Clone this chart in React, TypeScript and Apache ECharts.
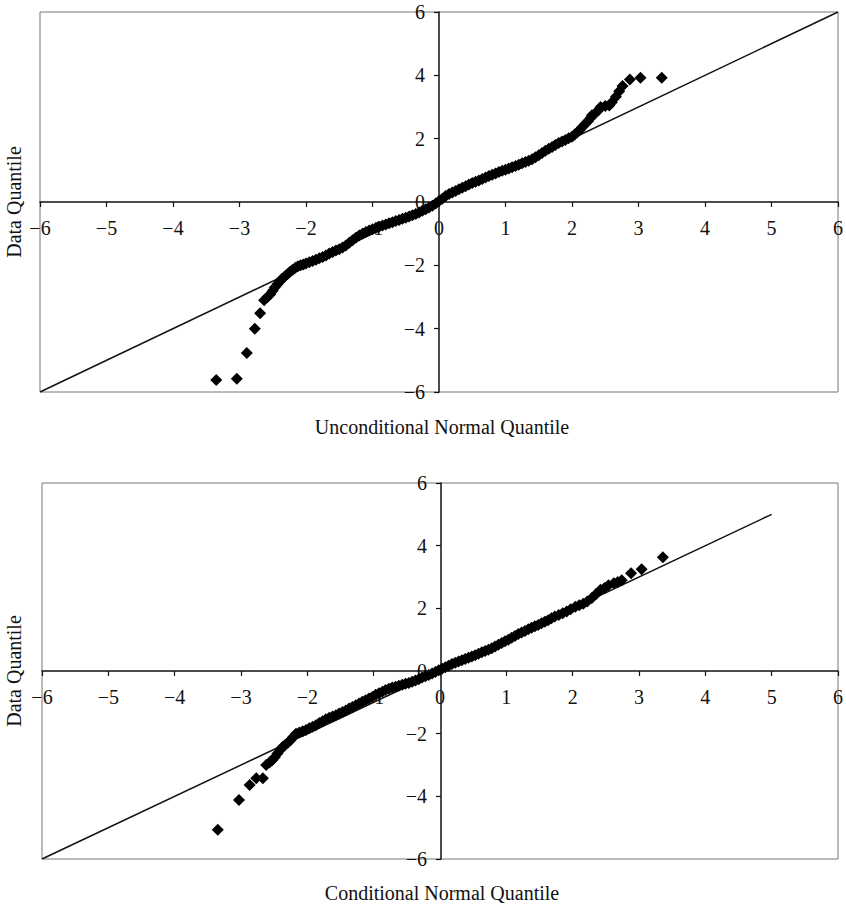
import React, { useEffect, useRef } from "react";
import * as echarts from "echarts";

// Top panel: unconditional normal quantiles vs data quantiles
const topX = [
  -3.35, -3.04, -2.89, -2.77, -2.69, -2.63, -2.58, -2.54, -2.5, -2.47, -2.43, -2.39, -2.36, -2.32,
  -2.28, -2.24, -2.2, -2.16, -2.12, -2.08, -2.04, -2.0, -1.95, -1.9, -1.85, -1.8, -1.75, -1.7,
  -1.65, -1.6, -1.55, -1.5, -1.45, -1.4, -1.35, -1.3, -1.25, -1.2, -1.15, -1.1, -1.05, -1.0,
  -0.95, -0.9, -0.85, -0.8, -0.75, -0.7, -0.65, -0.6, -0.55, -0.5, -0.45, -0.4, -0.35, -0.3,
  -0.25, -0.2, -0.15, -0.1, -0.05, 0.0, 0.05, 0.1, 0.15, 0.2, 0.25, 0.3, 0.35, 0.4, 0.45, 0.5,
  0.55, 0.6, 0.65, 0.7, 0.75, 0.8, 0.85, 0.9, 0.95, 1.0, 1.05, 1.1, 1.15, 1.2, 1.25, 1.3, 1.35,
  1.4, 1.45, 1.5, 1.55, 1.6, 1.65, 1.7, 1.75, 1.8, 1.85, 1.9, 1.95, 2.0, 2.04, 2.08, 2.12, 2.16,
  2.2, 2.24, 2.28, 2.3, 2.35, 2.39, 2.43, 2.5, 2.56, 2.6, 2.66, 2.71, 2.76, 2.87, 3.03, 3.35,
];
const topY = [
  -5.62, -5.58, -4.77, -4.0, -3.51, -3.1, -3.0, -2.92, -2.8, -2.7, -2.6, -2.5, -2.42, -2.35,
  -2.28, -2.2, -2.14, -2.08, -2.03, -2.0, -1.97, -1.94, -1.9, -1.86, -1.82, -1.78, -1.74, -1.69,
  -1.63, -1.58, -1.53, -1.49, -1.44, -1.37, -1.29, -1.21, -1.13, -1.06, -1.0, -0.95, -0.9, -0.86,
  -0.82, -0.78, -0.74, -0.71, -0.67, -0.64, -0.6, -0.57, -0.53, -0.5, -0.46, -0.42, -0.38, -0.33,
  -0.28, -0.23, -0.17, -0.12, -0.05, 0.03, 0.1, 0.19, 0.25, 0.3, 0.35, 0.4, 0.45, 0.5, 0.55, 0.6,
  0.64, 0.68, 0.73, 0.77, 0.82, 0.86, 0.9, 0.95, 0.99, 1.02, 1.06, 1.1, 1.14, 1.18, 1.22, 1.26,
  1.3, 1.35, 1.41, 1.48, 1.55, 1.62, 1.68, 1.74, 1.8, 1.86, 1.91, 1.96, 2.01, 2.06, 2.13, 2.2,
  2.28, 2.38, 2.47, 2.55, 2.65, 2.74, 2.8, 2.88, 3.0, 3.03, 3.05, 3.15, 3.32, 3.5, 3.66, 3.87,
  3.92, 3.92,
];

// Bottom panel: conditional normal quantiles vs data quantiles
const botX = [
  -3.35, -3.03, -2.87, -2.77, -2.67, -2.62, -2.57, -2.53, -2.49, -2.45, -2.41, -2.37, -2.33, -2.29,
  -2.25, -2.21, -2.17, -2.12, -2.07, -2.02, -1.97, -1.92, -1.87, -1.82, -1.77, -1.72, -1.67, -1.62,
  -1.57, -1.52, -1.47, -1.42, -1.37, -1.32, -1.27, -1.22, -1.17, -1.12, -1.07, -1.02, -0.97, -0.92,
  -0.87, -0.82, -0.77, -0.72, -0.67, -0.62, -0.57, -0.52, -0.47, -0.42, -0.37, -0.32, -0.27, -0.22,
  -0.17, -0.12, -0.07, -0.02, 0.03, 0.08, 0.13, 0.18, 0.23, 0.28, 0.33, 0.38, 0.43, 0.48, 0.53,
  0.58, 0.63, 0.68, 0.73, 0.78, 0.83, 0.88, 0.93, 0.98, 1.03, 1.08, 1.13, 1.18, 1.23, 1.28, 1.33,
  1.38, 1.43, 1.48, 1.53, 1.58, 1.63, 1.68, 1.73, 1.79, 1.85, 1.91, 1.97, 2.04, 2.1, 2.16, 2.22,
  2.29, 2.35, 2.42, 2.48, 2.54, 2.62, 2.68, 2.74, 2.88, 3.04, 3.36,
];
const botY = [
  -5.07, -4.12, -3.64, -3.42, -3.42, -3.0, -2.92, -2.85, -2.75, -2.63, -2.52, -2.42, -2.35, -2.28,
  -2.2, -2.1, -2.0, -1.96, -1.92, -1.88, -1.83, -1.78, -1.73, -1.66, -1.6, -1.54, -1.49, -1.45,
  -1.41, -1.36, -1.31, -1.26, -1.2, -1.15, -1.09, -1.04, -0.98, -0.93, -0.88, -0.83, -0.76, -0.71,
  -0.66, -0.61, -0.57, -0.53, -0.5, -0.47, -0.44, -0.41, -0.38, -0.34, -0.3, -0.26, -0.21, -0.17,
  -0.13, -0.08, -0.03, 0.02, 0.07, 0.12, 0.17, 0.22, 0.26, 0.3, 0.34, 0.38, 0.42, 0.46, 0.5,
  0.55, 0.6, 0.64, 0.68, 0.73, 0.78, 0.84, 0.89, 0.95, 1.0, 1.06, 1.12, 1.18, 1.23, 1.28, 1.33,
  1.38, 1.43, 1.47, 1.52, 1.57, 1.62, 1.68, 1.74, 1.79, 1.84, 1.9, 1.97, 2.05, 2.1, 2.15, 2.22,
  2.33, 2.45, 2.59, 2.65, 2.74, 2.8, 2.84, 2.9, 3.12, 3.25, 3.63,
];

// 45-degree reference lines
const topRefLine = [[-6, -6], [6, 6]];
const botRefLine = [[-6, -6], [5, 5]];

const xTicksMin = -6;
const xTicksMax = 6;
const yTicksMin = -6;
const yTicksMax = 6;

const topXTitle = "Unconditional Normal Quantile";
const botXTitle = "Conditional Normal Quantile";
const yTitle = "Data Quantile";

const FONT = "'Liberation Serif', 'Times New Roman', serif";

const fmt = (v: number) => (v < 0 ? "\u2212" + Math.abs(v) : String(v));

export default function App() {
  const ref = useRef<HTMLDivElement>(null);
  useEffect(() => {
    if (!ref.current) return;
    const chart = echarts.init(ref.current, null, { renderer: "svg" });
    const mkX = (gi: number, off: number) => ({
      type: "value",
      gridIndex: gi,
      position: "bottom",
      offset: off,
      min: xTicksMin,
      max: xTicksMax,
      interval: 1,
      axisLine: { onZero: false, lineStyle: { color: "#111", width: 1.5 } },
      axisTick: { show: true, length: 5, lineStyle: { color: "#111", width: 1.2 } },
      axisLabel: {
        formatter: fmt,
        color: "#111",
        fontFamily: FONT,
        fontSize: 20,
        margin: 16,
      },
      splitLine: { show: false },
    });
    const mkY = (gi: number, off: number) => ({
      type: "value",
      gridIndex: gi,
      position: "left",
      offset: off,
      min: yTicksMin,
      max: yTicksMax,
      interval: 2,
      axisLine: { onZero: false, lineStyle: { color: "#111", width: 1.5 } },
      axisTick: { show: true, length: 5, lineStyle: { color: "#111", width: 1.2 } },
      axisLabel: {
        formatter: fmt,
        color: "#111",
        fontFamily: FONT,
        fontSize: 20,
        margin: 14,
      },
      splitLine: { show: false },
    });
    const scatterStyle = {
      type: "scatter",
      symbol: "diamond",
      symbolSize: 12,
      itemStyle: { color: "#000", opacity: 1 },
      z: 5,
    };
    const lineStyle = {
      type: "line",
      symbol: "none",
      lineStyle: { color: "#111", width: 1.5 },
      z: 3,
    };
    chart.setOption({
      animation: false,
      backgroundColor: "#fff",
      grid: [
        { left: 40, top: 12, width: 798, height: 380, show: true, borderColor: "#777", borderWidth: 1 },
        { left: 42, top: 483, width: 798, height: 376, show: true, borderColor: "#777", borderWidth: 1 },
      ],
      xAxis: [mkX(0, -190), mkX(1, -188)],
      yAxis: [mkY(0, -399), mkY(1, -399)],
      series: [
        { ...lineStyle, xAxisIndex: 0, yAxisIndex: 0, data: topRefLine },
        { ...scatterStyle, xAxisIndex: 0, yAxisIndex: 0, data: topX.map((x, i) => [x, topY[i]]) },
        { ...lineStyle, xAxisIndex: 1, yAxisIndex: 1, data: botRefLine },
        { ...scatterStyle, xAxisIndex: 1, yAxisIndex: 1, data: botX.map((x, i) => [x, botY[i]]) },
      ],
      graphic: [
        {
          type: "text",
          x: 14,
          y: 202,
          rotation: Math.PI / 2,
          style: { text: yTitle, fontFamily: FONT, fontSize: 20, fill: "#111", align: "center", verticalAlign: "middle" },
        },
        {
          type: "text",
          x: 14,
          y: 671,
          rotation: Math.PI / 2,
          style: { text: yTitle, fontFamily: FONT, fontSize: 20, fill: "#111", align: "center", verticalAlign: "middle" },
        },
        {
          type: "text",
          x: 442,
          y: 427,
          style: { text: topXTitle, fontFamily: FONT, fontSize: 20, fill: "#111", align: "center", verticalAlign: "middle" },
        },
        {
          type: "text",
          x: 442,
          y: 893,
          style: { text: botXTitle, fontFamily: FONT, fontSize: 20, fill: "#111", align: "center", verticalAlign: "middle" },
        },
      ],
    });
    return () => chart.dispose();
  }, []);
  return (
    <div
      ref={ref}
      style={{ position: "fixed", left: 0, top: 0, width: 846, height: 908, background: "#fff" }}
    />
  );
}
